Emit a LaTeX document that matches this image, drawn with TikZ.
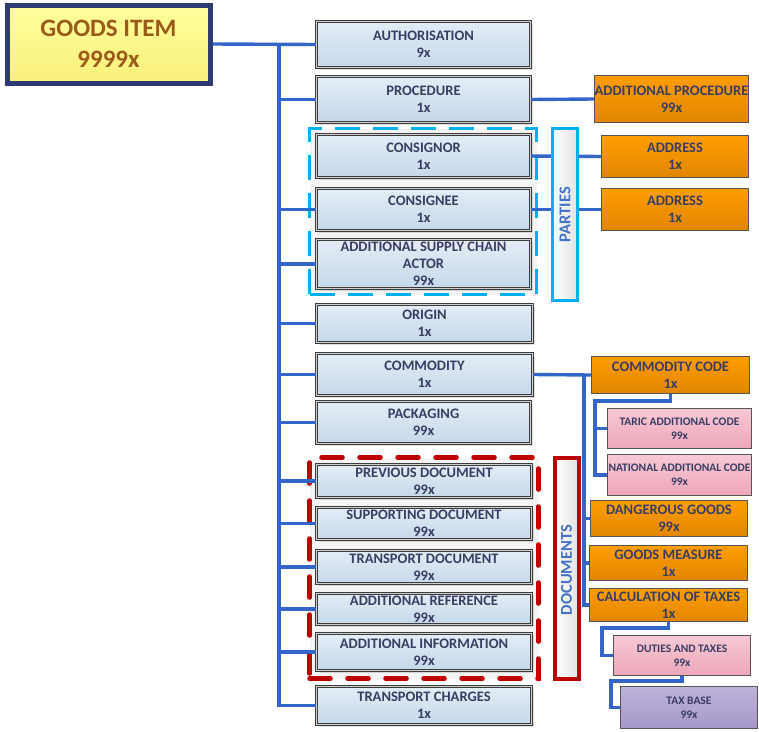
\documentclass[tikz,border=0pt]{standalone}
\usepackage{fontspec}
\setmainfont{Carlito}
\usetikzlibrary{shadows}
\definecolor{txt}{HTML}{3A3D63}
\definecolor{mbdraw}{HTML}{3C3C3C}
\definecolor{mbdouble}{HTML}{CFCFCF}
\definecolor{mbtop}{HTML}{E3EDF6}
\definecolor{mbbot}{HTML}{C6D8EA}
\definecolor{obdraw}{HTML}{555555}
\definecolor{obtop}{HTML}{FF9E00}
\definecolor{obbot}{HTML}{E08500}
\definecolor{pktop}{HTML}{F7C8D5}
\definecolor{pkbot}{HTML}{EDA7BA}
\definecolor{pptop}{HTML}{BEB3DB}
\definecolor{ppbot}{HTML}{A697C9}
\definecolor{gidraw}{HTML}{2E3A73}
\definecolor{gitop}{HTML}{FFFF9C}
\definecolor{gibot}{HTML}{F8F07A}
\definecolor{gitxt}{HTML}{9B5A1A}
\definecolor{partcol}{HTML}{00B0F0}
\definecolor{doccol}{HTML}{C00000}
\definecolor{grpfill}{HTML}{F4F4F4}
\definecolor{barright}{HTML}{E2E2E2}
\definecolor{bartxt}{HTML}{4472C4}
\definecolor{linkcol}{HTML}{3465C9}
\newcommand\boxat[7]{\node[#1, minimum width={(#5)-(#3)-3}, minimum height={(#6)-(#4)-3}] (#2) at ({((#3)+(#5))/2},{((#4)+(#6))/2}) {#7};}
\begin{document}
\begin{tikzpicture}[x=1pt,y=-1pt,
  base/.style={rectangle, inner sep=0pt, align=center, text=txt,
    font=\bfseries\fontsize{14.5}{17}\selectfont},
  mainbox/.style={base, draw=mbdraw, double=mbdouble, double distance=1.1pt,
    line width=1.4pt, top color=mbtop, bottom color=mbbot,
    drop shadow={shadow xshift=2pt, shadow yshift=-2pt, opacity=0.25}},
  orangebox/.style={base, draw=obdraw, line width=1.4pt, top color=obtop, bottom color=obbot},
  pinkbox/.style={base, draw=obdraw, line width=1.4pt, top color=pktop, bottom color=pkbot,
    font=\bfseries\fontsize{11.5}{14}\selectfont},
  purplebox/.style={base, draw=obdraw, line width=1.4pt, top color=pptop, bottom color=ppbot,
    font=\bfseries\fontsize{11.5}{14}\selectfont},
  gibox/.style={base, draw=gidraw, line width=5pt, top color=gitop, bottom color=gibot,
    text=gitxt, font=\bfseries\fontsize{25}{31}\selectfont,
    drop shadow={shadow xshift=2pt, shadow yshift=-2pt, opacity=0.25}},
  partgrp/.style={rectangle, draw=partcol, line width=3pt, dash pattern=on 25pt off 13pt, fill=grpfill},
  docgrp/.style={rectangle, draw=doccol, line width=4.5pt, line cap=round, dash pattern=on 21pt off 17pt, fill=grpfill},
  partbar/.style={rectangle, draw=partcol, line width=3.5pt, left color=white, right color=barright},
  docbar/.style={rectangle, draw=doccol, line width=4pt, left color=white, right color=barright},
  bartext/.style={rotate=90, text=bartxt, inner sep=0pt, font=\bfseries\fontsize{16.5}{18}\selectfont},
  link/.style={draw=linkcol, line width=3.4pt}
]
\useasboundingbox (0,0) rectangle (759,731);

% groups
\boxat{partgrp}{pgrp}{308}{127}{538}{296}{}
\boxat{docgrp}{dgrp}{308}{456}{540}{680}{}

% goods item
\boxat{gibox}{gi}{5.5}{3.5}{211.5}{84.5}{GOODS ITEM\\9999x}

% main boxes
\boxat{mainbox}{auth}{315}{20}{532}{69}{AUTHORISATION\\9x}
\boxat{mainbox}{proc}{315}{75}{532}{124}{PROCEDURE\\1x}
\boxat{mainbox}{cnor}{315}{133}{532}{179}{CONSIGNOR\\1x}
\boxat{mainbox}{cnee}{315}{187}{532}{232}{CONSIGNEE\\1x}
\boxat{mainbox}{asca}{315}{238}{532}{290}{\fontsize{14.5}{17.5}\selectfont ADDITIONAL SUPPLY CHAIN\\ACTOR\\99x}
\boxat{mainbox}{orig}{315}{303}{534}{344}{ORIGIN\\1x}
\boxat{mainbox}{comm}{315}{352}{534}{397}{COMMODITY\\1x}
\boxat{mainbox}{pack}{315}{400}{532}{445}{PACKAGING\\99x}
\boxat{mainbox}{prev}{315}{463}{533}{499}{PREVIOUS DOCUMENT\\99x}
\boxat{mainbox}{supp}{315}{506}{533}{541}{SUPPORTING DOCUMENT\\99x}
\boxat{mainbox}{tdoc}{315}{549}{533}{585}{TRANSPORT DOCUMENT\\99x}
\boxat{mainbox}{aref}{315}{592}{533}{626}{ADDITIONAL REFERENCE\\99x}
\boxat{mainbox}{ainf}{315}{632}{533}{672}{ADDITIONAL INFORMATION\\99x}
\boxat{mainbox}{tchg}{315}{685}{533}{726}{TRANSPORT CHARGES\\1x}

% orange boxes
\boxat{orangebox}{aproc}{593}{74}{750}{124}{ADDITIONAL PROCEDURE\\99x}
\boxat{orangebox}{addr1}{600}{134}{750}{179}{ADDRESS\\1x}
\boxat{orangebox}{addr2}{600}{187}{750}{232}{ADDRESS\\1x}
\boxat{orangebox}{ccode}{590}{355}{751}{395}{COMMODITY CODE\\1x}
\boxat{orangebox}{dang}{589}{499}{749}{538}{DANGEROUS GOODS\\99x}
\boxat{orangebox}{gmeas}{588}{544}{749}{582}{GOODS MEASURE\\1x}
\boxat{orangebox}{calc}{588}{587}{749}{623}{CALCULATION OF TAXES\\1x}

% pink / purple boxes
\boxat{pinkbox}{taric}{606}{407}{753}{450}{TARIC ADDITIONAL CODE\\99x}
\boxat{pinkbox}{natc}{606}{453}{753}{497}{NATIONAL ADDITIONAL CODE\\99x}
\boxat{pinkbox}{duty}{612}{634}{752}{677}{DUTIES AND TAXES\\99x}
\boxat{purplebox}{tbase}{619}{685}{759}{730}{TAX BASE\\99x}

% connectors
\coordinate (tr) at (279,44);
\draw[link] (gi.east) -- (auth.west);
\draw[link] (tr) |- (tchg.west);
\foreach \n in {proc,cnee,asca,orig,comm,pack,prev,supp,tdoc,aref,ainf}
  \draw[link] (tr) |- (\n.west);
\draw[link] (proc.east) -- (aproc.west);
\draw[link] (cnor.east) -- (addr1.west);
\draw[link] (cnee.east) -- (addr2.west);
\draw[link] (comm.east) -- (ccode.west);
\coordinate (cv) at (584,374.5);
\draw[link] (cv) |- (calc.west);
\draw[link] (cv) |- (dang.west);
\draw[link] (cv) |- (gmeas.west);
\coordinate (ccj) at (595,401);
\draw[link] (ccode.south) |- (ccj) |- (natc.west);
\draw[link] (ccj) |- (taric.west);
\coordinate (ctj) at (602,628);
\draw[link] (calc.south) |- (ctj) |- (duty.west);
\coordinate (dtj) at (611,681);
\draw[link] (duty.south) |- (dtj) |- (tbase.west);

% bars
\boxat{partbar}{pbar}{551}{127}{579}{302}{}
\boxat{docbar}{dbar}{553}{456}{580}{680}{}
\node[bartext] (ptxt) at (pbar.center) {PARTIES};
\node[bartext] (dtxt) at ([yshift=-2pt]dbar.center) {DOCUMENTS};
\end{tikzpicture}
\end{document}
